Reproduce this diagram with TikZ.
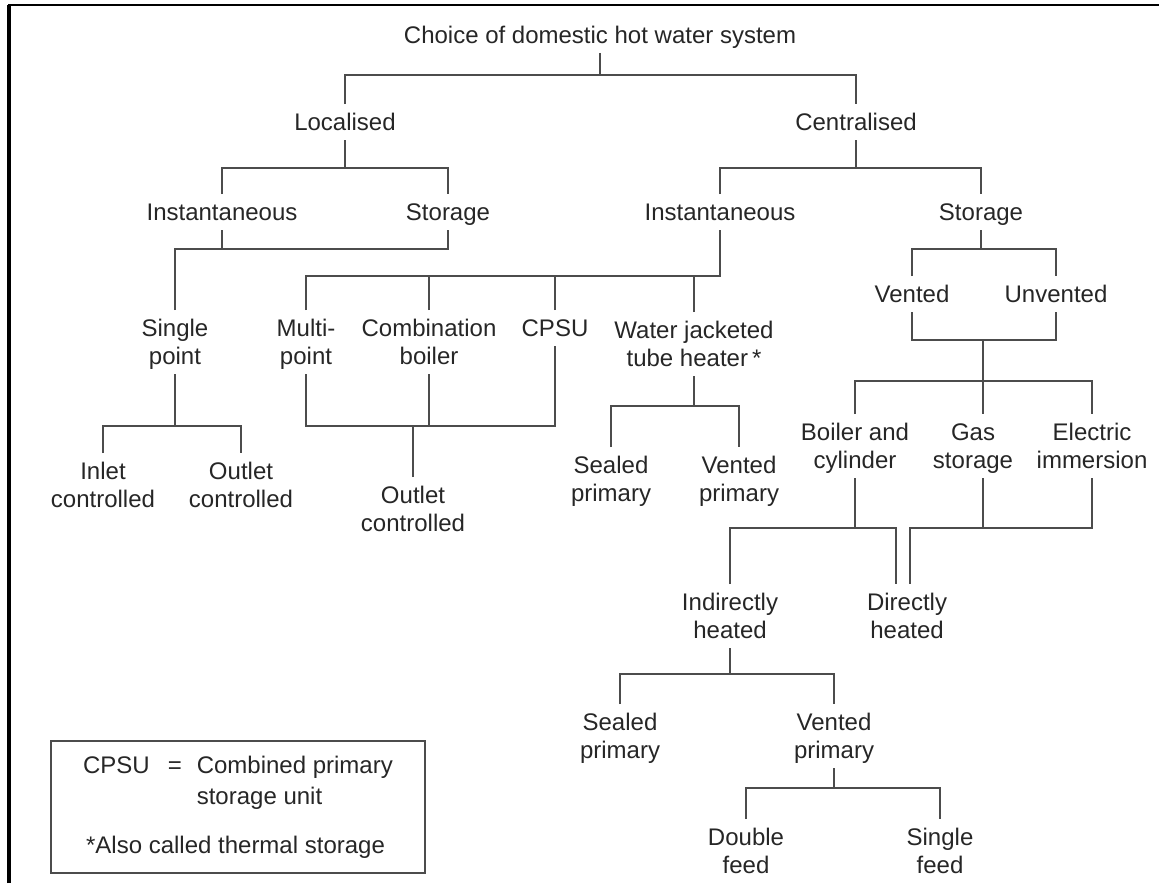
\documentclass[tikz,border=0pt]{standalone}
\usepackage{fontspec}
\setmainfont{Liberation Sans}
\begin{document}
\begin{tikzpicture}[x=0.5pt, y=-0.5pt,
  lbl/.style={align=center, font=\fontsize{12}{14}\selectfont, text=black!85, text height=8.6pt, text depth=0pt, inner xsep=2pt, inner ysep=4.5pt},
  lbltwo/.style={lbl, text height=22.6pt},
  link/.style={draw=black!70, line width=.7pt}]
\useasboundingbox (0,0) rectangle (1159,883);
\draw[line width=1.6pt] (9,883) -- (9,5);
\draw[line width=1pt] (8.2,5) -- (1159,5);
\node[lbl] (title) at (600,35) {Choice of domestic hot water system};
\node[lbl] (local) at (345,122) {Localised};
\node[lbl] (central) at (856,122) {Centralised};
\node[lbl] (linst) at (222,212) {Instantaneous};
\node[lbl] (lstore) at (448,212) {Storage};
\node[lbl] (cinst) at (720,212) {Instantaneous};
\node[lbl] (cstore) at (981,212) {Storage};
\node[lbltwo] (single) at (175,342) {Single\\point};
\node[lbltwo] (multi) at (306,342) {Multi-\\point};
\node[lbltwo] (combi) at (429,342) {Combination\\boiler};
\node[lbl] (cpsu) at (555,328) {CPSU};
\node[lbltwo] (jacket) at (694,344) {Water jacketed\\tube heater\,*};
\node[lbl] (vented) at (912,294) {Vented};
\node[lbl] (unvented) at (1056,294) {Unvented};
\node[lbltwo] (inlet) at (103,485) {Inlet\\controlled};
\node[lbltwo] (outletA) at (241,485) {Outlet\\controlled};
\node[lbltwo] (outletB) at (413,509) {Outlet\\controlled};
\node[lbltwo] (sealedA) at (611,479) {Sealed\\primary};
\node[lbltwo] (ventedA) at (739,479) {Vented\\primary};
\node[lbltwo] (boiler) at (855,446) {Boiler and\\cylinder};
\node[lbltwo] (gas) at (973,446) {Gas\\storage};
\node[lbltwo] (electric) at (1092,446) {Electric\\immersion};
\node[lbltwo] (indirect) at (730,616) {Indirectly\\heated};
\node[lbltwo] (direct) at (907,616) {Directly\\heated};
\node[lbltwo] (sealedB) at (620,736) {Sealed\\primary};
\node[lbltwo] (ventedB) at (834,736) {Vented\\primary};
\node[lbltwo] (double) at (746,851) {Double\\feed};
\node[lbltwo] (singlefeed) at (940,851) {Single\\feed};
\node[draw=black!70, line width=.7pt, inner sep=0pt, minimum width=187pt, minimum height=66pt, text=black!85, font=\fontsize{12}{15.5}\selectfont] (key) at (238,807)
  {\begin{tabular}{@{}l@{\hspace{9pt}}c@{\hspace{7.5pt}}l@{}}
   CPSU & = & Combined primary\\
        &   & storage unit\\[9pt]
   \multicolumn{3}{@{\hspace{1.5pt}}l@{}}{*Also called thermal storage}
   \end{tabular}};
\coordinate (vjoin) at (983,340);
\coordinate (sjoin) at (983,381);
\coordinate (djoin) at (983,528);
\coordinate (dleft) at ([xshift=-5.5pt]direct.north);
\coordinate (dright) at ([xshift=1.5pt]direct.north);
\draw[link] (title) -- (title |- 0,75);
\draw[link] (local) -- (local |- 0,75) -| (central);
\draw[link] (local) -- (local |- 0,168);
\draw[link] (linst) -- (linst |- 0,168) -| (lstore);
\draw[link] (linst) -- (linst |- 0,249);
\draw[link] (single) -- (single |- 0,249) -| (lstore);
\draw[link] (single) -- (single |- 0,426);
\draw[link] (inlet) -- (inlet |- 0,426) -| (outletA);
\draw[link] (central) -- (central |- 0,168);
\draw[link] (cinst) -- (cinst |- 0,168) -| (cstore);
\draw[link] (multi) -- (multi |- 0,276) -| (cinst);
\draw[link] (combi) -- (combi |- 0,276);
\draw[link] (cpsu) -- (cpsu |- 0,276);
\draw[link] (jacket) -- (jacket |- 0,276);
\draw[link] (multi) -- (multi |- 0,426) -| (cpsu);
\draw[link] (combi) -- (combi |- 0,426);
\draw[link] (outletB) -- (outletB |- 0,426);
\draw[link] (jacket) -- (jacket |- 0,406);
\draw[link] (sealedA) -- (sealedA |- 0,406) -| (ventedA);
\draw[link] (cstore) -- (cstore |- 0,249);
\draw[link] (vented) -- (vented |- 0,249) -| (unvented);
\draw[link] (vented) -- (vented |- vjoin) -| (unvented);
\draw[link] (vjoin) -- (sjoin);
\draw[link] (boiler) -- (boiler |- sjoin) -| (electric);
\draw[link] (sjoin) -- (sjoin |- gas.north);
\draw[link] (boiler) -- (boiler |- djoin);
\draw[link] (indirect) -- (indirect |- djoin) -| (dleft);
\draw[link] (djoin |- gas.south) -- (djoin);
\draw[link] (electric) -- (electric |- djoin) -| (dright);
\draw[link] (indirect) -- (indirect |- 0,674);
\draw[link] (sealedB) -- (sealedB |- 0,674) -| (ventedB);
\draw[link] (ventedB) -- (ventedB |- 0,788);
\draw[link] (double) -- (double |- 0,788) -| (singlefeed);
\end{tikzpicture}
\end{document}
